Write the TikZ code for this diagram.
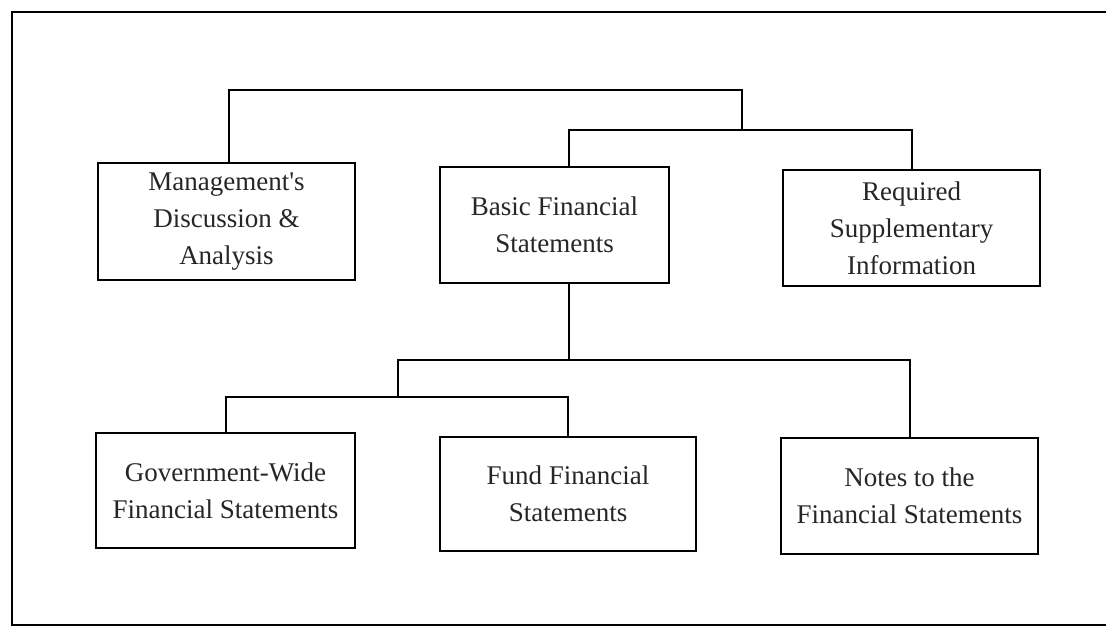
\documentclass[tikz,border=0pt]{standalone}
\usepackage{fontspec}
\setmainfont{Liberation Serif}[Ligatures=TeXOff]
\begin{document}
\begin{tikzpicture}[x=1pt,y=-1pt,
  box/.style={draw,line width=2.2pt,rectangle,align=center,inner sep=0pt,
    font=\fontsize{27}{37}\selectfont,text=black!85},
  link/.style={line width=2pt}]
\useasboundingbox (0,0) rectangle (1106,628);
\draw[line width=2pt] (1106,12) -- (12,12) -- (12,625) -- (1106,625);
\node[box,minimum width=257pt,minimum height=117pt] (mda) at (226.5,221.5) {Management's\\Discussion \&\\Analysis};
\node[box,minimum width=229pt,minimum height=116pt] (bfs) at (554.5,225) {Basic Financial\\Statements};
\node[box,minimum width=257pt,minimum height=116pt] (rsi) at (911.5,228) {Required\\Supplementary\\Information};
\node[box,minimum width=259pt,minimum height=115pt] (gov) at (225.5,490.5) {Government-Wide\\Financial Statements};
\node[box,minimum width=256pt,minimum height=114pt] (fund) at (568,494) {Fund Financial\\Statements};
\node[box,minimum width=257pt,minimum height=116pt] (notes) at (909.5,496) {Notes to the\\Financial Statements};
\coordinate (j1) at (742,130);
\coordinate (j2) at (398,397);
\draw[link] (mda.north -| 229,0) |- (742,90) -- (j1);
\draw[link] (bfs.north -| 569,0) |- (j1) -| (rsi.north);
\draw[link] (bfs.south -| 569,0) -- (569,360) coordinate (j3);
\draw[link] (j2) |- (j3) -| (notes.north);
\draw[link] (gov.north) |- (j2) -| (fund.north);
\end{tikzpicture}
\end{document}
